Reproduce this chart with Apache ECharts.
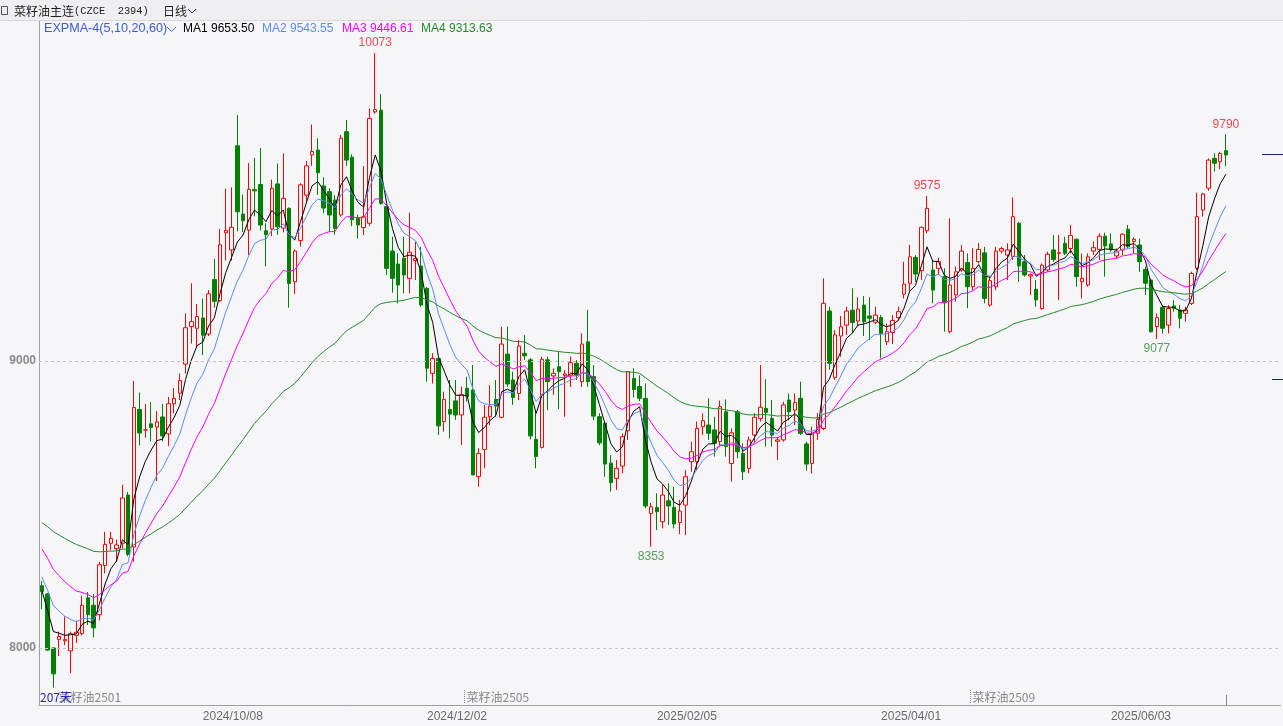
<!DOCTYPE html>
<html><head><meta charset="utf-8">
<script src="https://cdn.jsdelivr.net/npm/echarts@6/dist/echarts.min.js"></script>
<style>html,body{margin:0;padding:0;background:#f5f5fa;overflow:hidden}#c{width:1283px;height:726px}</style>
</head><body><div id="c"></div>
<script>
// ---- data ----
const open = [8217,8188,8000,8030,8025,7990,8044,8050,8175,8149,8116,8287,8365,8346,8365,8533,8352,8831,8760,8781,8770,8805,8746,8851,8888,8989,9120,9114,9150,9094,9284,9210,9447,9387,9750,9512,9456,9598,9615,9454,9460,9617,9463,9532,9276,9420,9578,9718,9735,9610,9590,9561,9509,9799,9710,9497,9465,9480,9868,9874,9538,9383,9338,9358,9288,9350,9331,9253,8957,9009,8789,8831,8861,8812,8905,8899,8597,8692,8806,8866,8804,9024,8934,8887,9027,9004,8727,8699,9004,8948,8980,8950,8951,8992,8928,9067,8946,8806,8783,8644,8591,8634,8757,8939,8911,8870,8469,8490,8440,8513,8490,8437,8498,8649,8649,8771,8777,8760,8719,8823,8643,8823,8678,8626,8742,8800,8835,8800,8720,8725,8864,8829,8870,8711,8643,8748,8765,9174,8943,9087,9125,9177,9139,9195,9157,9135,9152,9067,9099,9151,9233,9271,9361,9315,9454,9317,9323,9294,9102,9230,9317,9343,9259,9346,9377,9195,9259,9383,9369,9364,9480,9346,9296,9250,9183,9317,9387,9375,9410,9392,9424,9276,9265,9383,9389,9435,9408,9366,9387,9459,9416,9404,9319,9282,9120,9187,9125,9192,9178,9166,9201,9323,9526,9602,9706,9694,9733];
const close = [8197,7993,7910,8040,8030,8050,8055,8149,8116,8070,8290,8361,8382,8359,8523,8326,8838,8749,8760,8768,8788,8739,8851,8870,8932,9116,9137,9155,9090,9234,9208,9405,9455,9466,9520,9489,9598,9593,9474,9440,9602,9468,9567,9270,9383,9614,9680,9730,9656,9533,9509,9462,9776,9700,9492,9474,9503,9845,9876,9549,9323,9288,9265,9300,9379,9357,9195,8975,9009,8774,8866,8815,8812,8882,8876,8603,8678,8804,8843,8843,9059,8920,8873,9052,9018,8739,8667,9006,8928,8957,8963,8955,8994,8951,9059,8928,8808,8715,8641,8576,8626,8736,8963,8901,8870,8495,8492,8475,8533,8495,8432,8477,8597,8684,8765,8792,8748,8713,8841,8702,8750,8684,8614,8725,8804,8839,8821,8742,8725,8847,8823,8855,8748,8641,8748,8797,9201,8992,9091,9119,9174,9134,9181,9137,9149,9160,9096,9102,9141,9172,9268,9363,9303,9466,9532,9247,9346,9203,9265,9311,9383,9259,9323,9389,9218,9280,9383,9392,9387,9503,9331,9300,9301,9213,9334,9372,9354,9377,9375,9437,9294,9288,9363,9395,9435,9401,9387,9383,9442,9398,9424,9346,9271,9102,9151,9114,9183,9184,9149,9178,9305,9503,9582,9700,9689,9723,9718];
const low = [8135,7990,7862,7972,8010,7912,8018,8044,8080,8037,8096,8260,8340,8300,8346,8320,8300,8706,8733,8720,8582,8720,8703,8818,8864,8956,9061,9048,9021,9087,9186,9205,9350,9350,9452,9450,9369,9504,9455,9330,9435,9440,9448,9186,9234,9399,9556,9680,9579,9515,9450,9440,9503,9680,9470,9427,9439,9470,9862,9545,9300,9238,9201,9236,9236,9282,9189,8928,8922,8742,8754,8731,8795,8707,8858,8603,8562,8626,8777,8806,8800,8910,8847,8864,9003,8727,8626,8695,8829,8882,8832,8806,8910,8934,8910,8910,8794,8707,8597,8545,8551,8609,8725,8873,8860,8487,8353,8411,8417,8429,8417,8397,8394,8614,8620,8742,8725,8667,8702,8667,8580,8661,8585,8609,8713,8789,8702,8702,8655,8719,8794,8777,8742,8618,8608,8725,8759,8969,8934,9015,9091,9096,9120,9087,9073,9129,9009,9056,9059,9140,9218,9242,9276,9283,9445,9201,9300,9102,9096,9207,9311,9184,9247,9340,9201,9189,9247,9375,9282,9352,9276,9294,9230,9189,9178,9311,9346,9212,9369,9375,9259,9218,9259,9369,9352,9294,9381,9358,9369,9392,9375,9311,9230,9099,9077,9096,9096,9172,9114,9137,9195,9317,9503,9593,9660,9668,9679];
const high = [8234,8192,8003,8057,8110,8057,8095,8182,8195,8188,8300,8405,8405,8378,8569,8543,8930,8890,8850,8857,8825,8851,8875,8906,8956,9166,9271,9199,9218,9247,9356,9460,9600,9605,9857,9580,9690,9708,9742,9480,9632,9688,9723,9535,9389,9619,9697,9824,9776,9640,9602,9578,9787,9840,9720,9510,9679,9880,10073,9930,9545,9433,9375,9433,9517,9415,9398,9258,9027,9009,8893,8934,8934,8911,8945,8986,8696,8847,8916,8934,9120,9120,8963,9073,9090,9010,8829,9015,9015,8974,9032,8968,9015,9003,9096,9178,8986,8818,8783,8672,8655,8748,8963,8975,8950,8922,8505,8539,8568,8574,8562,8516,8620,8719,8789,8818,8870,8806,8862,8866,8765,8829,8713,8737,8818,8986,8936,8864,8736,8858,8887,8887,8928,8719,8771,8818,9288,9189,9108,9157,9189,9253,9222,9226,9222,9189,9160,9131,9160,9189,9346,9404,9369,9468,9575,9352,9360,9323,9497,9329,9404,9375,9393,9410,9398,9294,9398,9398,9410,9570,9485,9369,9305,9282,9340,9381,9439,9439,9433,9474,9427,9375,9375,9416,9445,9447,9445,9392,9445,9474,9431,9427,9329,9288,9166,9195,9195,9212,9195,9189,9311,9586,9586,9706,9724,9729,9790];
const emaPeriods = [5, 10, 20, 60];
const emaSeeds = [8200, 8247, 8346, 8437];
const emaColors = ['#000000', '#5b8cf0', '#ff00ff', '#2a8a2a'];
const legendValues = ['9653.50', '9543.55', '9446.61', '9313.63'];
const tickIndex = [28, 67, 107, 146, 186];
const tickLabels = ['2024/10/08', '2024/12/02', '2025/02/05', '2025/04/01', '2025/06/03'];
const gridValues = [8000, 9000];
const highMarkIdx = [58, 154, 206];
const lowMarkIdx = [106, 194];
const contractIdx = [3, 74, 162];
const contractNames = ['菜籽油2501', '菜籽油2505', '菜籽油2509'];
const sideMarkValues = [9721, 8937];
const emptyTail = 9;

// ---- build ----
const N = open.length + emptyTail;
const cats = Array.from({length: N}, (_, i) => String(i));
const candles = open.map((o, i) => [o, close[i], low[i], high[i]]);
function ema(period, seed) {
  const a = 2 / (period + 1);
  let e = seed;
  return close.map((c, i) => { if (i > 0) e = a * c + (1 - a) * e; return +e.toFixed(2); });
}
const FONT = 'Liberation Sans, Arial, sans-serif';
const CJK = 'Noto Sans CJK SC, sans-serif';
const chart = echarts.init(document.getElementById('c'), null, {renderer: 'canvas'});
const series = [{
  type: 'candlestick', data: candles, barWidth: 4,
  itemStyle: {color: '#f5f5fa', color0: '#008000', borderColor: '#ff0000', borderColor0: '#008000', borderWidth: 1},
  markLine: {
    silent: true, symbol: ['none', 'none'], animation: false,
    lineStyle: {color: '#c4c4c8', type: [3, 3], width: 1},
    label: {position: 'start', formatter: '{c}', color: '#8a8a8a', fontWeight: 'bold', fontSize: 12, fontFamily: FONT, distance: 3},
    data: gridValues.map(v => ({yAxis: v}))
  }
}];
emaPeriods.forEach((p, k) => series.push({
  type: 'line', data: ema(p, emaSeeds[k]), symbol: 'none', silent: true,
  lineStyle: {color: emaColors[k], width: 1}, z: 3
}));
series.push({
  type: 'scatter', symbolSize: 0, silent: true,
  data: highMarkIdx.map(i => [i, high[i]]),
  label: {show: true, position: 'top', distance: 4, color: '#ee1c1c', fontSize: 12, fontFamily: FONT, formatter: p => p.value[1]}
});
series.push({
  type: 'scatter', symbolSize: 0, silent: true,
  data: lowMarkIdx.map(i => [i, low[i]]),
  label: {show: true, position: 'bottom', distance: 4, color: '#2e8b2e', fontSize: 12, fontFamily: FONT, formatter: p => p.value[1]}
});

chart.setOption({
  animation: false,
  backgroundColor: '#f5f5fa',
  grid: {left: 39, top: 20, width: 1241.5, height: 685},
  xAxis: {
    type: 'category', data: cats, boundaryGap: true,
    axisLine: {show: true, lineStyle: {color: '#a0a0a0'}},
    axisTick: {show: false},
    axisLabel: {
      interval: (i) => tickIndex.includes(i), align: 'left', margin: 6,
      formatter: (v, i) => tickLabels[tickIndex.indexOf(i)] || '',
      color: '#6a6a6a', fontSize: 12, fontFamily: FONT
    },
    splitLine: {show: false}
  },
  yAxis: {
    type: 'value', min: 7801.4, max: 10188.2, position: 'left',
    axisLine: {show: true, lineStyle: {color: '#a0a0a0'}},
    axisTick: {show: false}, axisLabel: {show: false}, splitLine: {show: false}
  },
  series: series
});

// ---- annotations (positions from the chart's scales) ----
const px = i => chart.convertToPixel({xAxisIndex: 0}, i);
const py = v => chart.convertToPixel({yAxisIndex: 0}, v);
const g = [];
g.push({type: 'rect', shape: {x: 0, y: 0, width: 1283, height: 20}, style: {fill: '#efeff2'}, z: 100});
g.push({type: 'line', shape: {x1: 0, y1: 20.5, x2: 1283, y2: 20.5}, style: {stroke: '#d8d8dc', lineWidth: 1}, z: 100});
g.push({type: 'rect', shape: {x: 1.5, y: 6.5, width: 6, height: 8}, style: {fill: 'none', stroke: '#555', lineWidth: 1}, z: 101});
g.push({type: 'text', x: 14, y: 11, style: {text: '菜籽油主连', fill: '#1e1e1e', font: '12px ' + CJK, verticalAlign: 'middle'}, z: 101});
g.push({type: 'text', x: 74, y: 11, style: {text: '(CZCE  2394)', fill: '#1e1e1e', font: '10.4px Liberation Mono, DejaVu Sans Mono, monospace', verticalAlign: 'middle'}, z: 101});
g.push({type: 'text', x: 163, y: 11, style: {text: '日线', fill: '#1e1e1e', font: '12px ' + CJK, verticalAlign: 'middle'}, z: 101});
g.push({type: 'polyline', shape: {points: [[188, 9], [192, 13], [196, 9]]}, style: {stroke: '#333', lineWidth: 1, fill: 'none'}, z: 101});
// legend
const legendParts = [
  {t: 'EXPMA-4(5,10,20,60)', c: '#3b5bd0', x: 44, f: '12.6px '},
  {t: 'MA1 ' + legendValues[0], c: emaColors[0], x: 183, f: '12px '},
  {t: 'MA2 ' + legendValues[1], c: emaColors[1], x: 262, f: '12px '},
  {t: 'MA3 ' + legendValues[2], c: emaColors[2], x: 342, f: '12px '},
  {t: 'MA4 ' + legendValues[3], c: emaColors[3], x: 421, f: '12px '}
];
legendParts.forEach(p => g.push({type: 'text', x: p.x, y: 29, style: {text: p.t, fill: p.c, font: p.f + FONT, verticalAlign: 'middle'}, z: 101}));
g.push({type: 'polyline', shape: {points: [[167, 27], [171.5, 31.5], [176, 27]]}, style: {stroke: '#3b5bd0', lineWidth: 1, fill: 'none'}, z: 101});
// contract roll markers
contractIdx.forEach((ci, k) => {
  const x = Math.round(px(ci) - 2.9) + 0.5;
  if (k > 0) g.push({type: 'line', shape: {x1: x, y1: 690, x2: x, y2: 704}, style: {stroke: '#888', lineWidth: 1, lineDash: [1, 1]}, z: 50});
  g.push({type: 'text', x: x + 2, y: 697, style: {text: contractNames[k], fill: '#8a8a8a', font: '12px ' + CJK, verticalAlign: 'middle'}, z: 50});
});
g.push({type: 'text', x: 40, y: 697, style: {text: '207天', fill: '#2424c8', font: '12px ' + CJK, verticalAlign: 'middle'}, z: 51});
// last-bar marker
const lx = Math.round(px(open.length - 1)) + 0.5;
g.push({type: 'line', shape: {x1: lx, y1: 695, x2: lx, y2: 705}, style: {stroke: '#888', lineWidth: 1}, z: 50});
// side marks
g.push({type: 'line', shape: {x1: 1262, y1: Math.round(py(sideMarkValues[0])) + 0.5, x2: 1283, y2: Math.round(py(sideMarkValues[0])) + 0.5}, style: {stroke: '#1a1a8c', lineWidth: 1}, z: 50});
g.push({type: 'line', shape: {x1: 1272, y1: Math.round(py(sideMarkValues[1])) + 0.5, x2: 1283, y2: Math.round(py(sideMarkValues[1])) + 0.5}, style: {stroke: '#1a1a8c', lineWidth: 1}, z: 50});
chart.setOption({graphic: g});
</script></body></html>
